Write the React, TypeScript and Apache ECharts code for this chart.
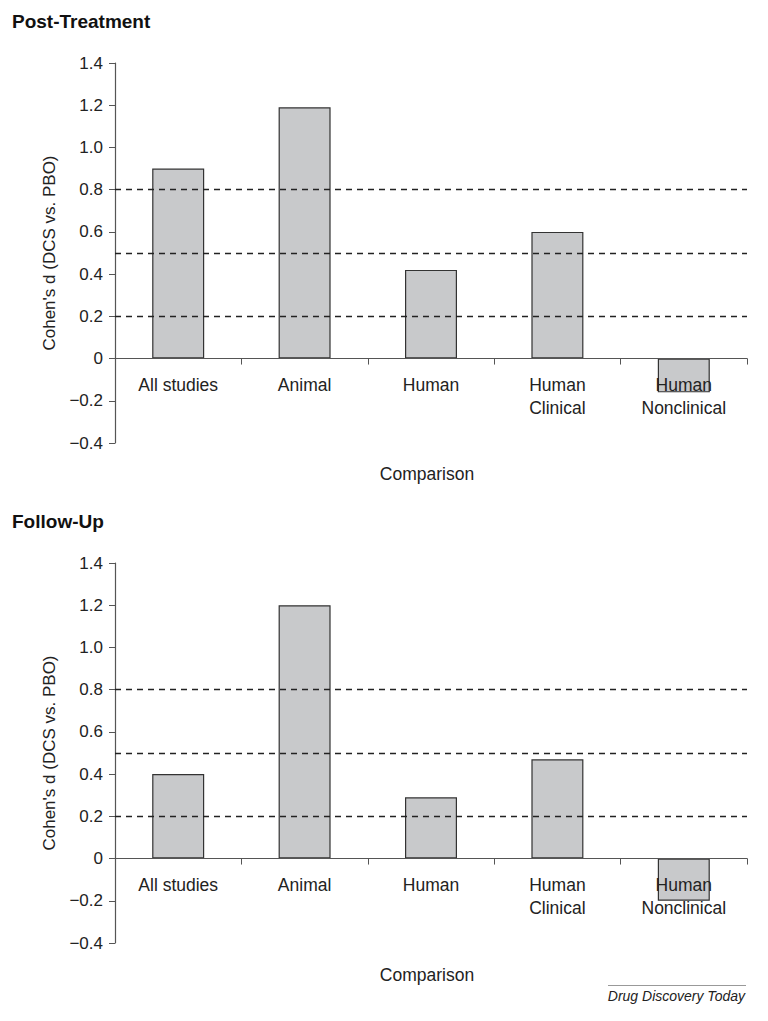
import React, { useEffect, useRef } from "react";
import * as echarts from "echarts";

const categories = ["All studies", "Animal", "Human", "Human\nClinical", "Human\nNonclinical"];
const postTreatment = [0.9, 1.19, 0.42, 0.6, -0.16];
const followUp = [0.4, 1.2, 0.29, 0.47, -0.2];
const thresholds = [0.8, 0.5, 0.2];
const panelTitles = ["Post-Treatment", "Follow-Up"];
const yAxisName = "Cohen's d (DCS vs. PBO)";
const xAxisName = "Comparison";
const footer = "Drug Discovery Today";
const yMin = -0.4;
const yMax = 1.4;

const FONT = "'Liberation Sans', Arial, Helvetica, sans-serif";
const TEXT = "#222";
const AXIS = "#555";

function fmt(v: number) {
  if (Math.abs(v) < 1e-9) return "0";
  const s = Math.abs(v).toFixed(1);
  return v < 0 ? "\u2212" + s : s;
}

export default function App() {
  const ref = useRef<HTMLDivElement>(null);
  useEffect(() => {
    if (!ref.current) return;
    const chart = echarts.init(ref.current, null, { renderer: "svg" });
    const gridH = 380;
    const grids = [
      { left: 115, top: 63, width: 632, height: gridH },
      { left: 115, top: 563, width: 632, height: gridH },
    ];
    // place the category axis on the zero line (offset upward from the grid bottom)
    const zeroOffset = -((0 - yMin) / (yMax - yMin)) * gridH;
    const xAxes = grids.map((_, i) => ({
      type: "category",
      gridIndex: i,
      data: categories,
      z: 3,
      offset: zeroOffset,
      axisLine: { onZero: false, lineStyle: { color: AXIS, width: 1.2 } },
      axisTick: { show: true, length: 6, lineStyle: { color: AXIS } },
      axisLabel: {
        color: TEXT,
        fontSize: 17.5,
        fontFamily: FONT,
        lineHeight: 23,
        margin: 15,
        interval: 0,
      },
    }));
    const yAxes = grids.map((_, i) => ({
      type: "value",
      gridIndex: i,
      min: yMin,
      max: yMax,
      interval: 0.2,
      name: yAxisName,
      nameLocation: "middle",
      nameRotate: 90,
      nameGap: 57,
      nameTextStyle: { color: TEXT, fontSize: 17, fontFamily: FONT },
      axisLine: { show: true, lineStyle: { color: AXIS, width: 1.2 } },
      axisTick: { show: true, length: 6, lineStyle: { color: AXIS } },
      splitLine: { show: false },
      axisLabel: {
        color: TEXT,
        fontSize: 17,
        fontFamily: FONT,
        margin: 12,
        formatter: (v: number) => fmt(v),
      },
    }));
    const series = [postTreatment, followUp].map((d, i) => ({
      type: "bar",
      xAxisIndex: i,
      yAxisIndex: i,
      data: d,
      barWidth: 52,
      itemStyle: { color: "#c8c9cb", borderColor: "#333", borderWidth: 1.2 },
      markLine: {
        silent: true,
        symbol: "none",
        label: { show: false },
        lineStyle: { color: "#222", type: [6, 5], width: 1.4 },
        data: thresholds.map((t) => ({ yAxis: t })),
        z: 5,
      },
    }));
    const titleStyle = { fill: "#111", fontSize: 19, fontWeight: "bold", fontFamily: FONT };
    const graphic: any[] = [
      { type: "text", left: 12, top: 12, style: { text: panelTitles[0], ...titleStyle } },
      { type: "text", left: 12, top: 512, style: { text: panelTitles[1], ...titleStyle } },
      {
        type: "text",
        x: 427,
        y: 474,
        style: { text: xAxisName, fill: TEXT, fontSize: 17.5, fontFamily: FONT, align: "center", verticalAlign: "middle" },
      },
      {
        type: "text",
        x: 427,
        y: 975,
        style: { text: xAxisName, fill: TEXT, fontSize: 17.5, fontFamily: FONT, align: "center", verticalAlign: "middle" },
      },
      {
        type: "line",
        shape: { x1: 608, y1: 985.5, x2: 746, y2: 985.5 },
        style: { stroke: "#999", lineWidth: 1 },
      },
      {
        type: "text",
        x: 745,
        y: 996,
        style: {
          text: footer,
          fill: TEXT,
          fontSize: 14,
          fontStyle: "italic",
          fontFamily: FONT,
          align: "right",
          verticalAlign: "middle",
        },
      },
    ];
    chart.setOption({
      animation: false,
      backgroundColor: "#fff",
      grid: grids,
      xAxis: xAxes,
      yAxis: yAxes,
      series,
      graphic,
    } as any);
    return () => chart.dispose();
  }, []);
  return (
    <div
      ref={ref}
      style={{ position: "absolute", left: 0, top: 0, width: 768, height: 1021, background: "#fff" }}
    />
  );
}
